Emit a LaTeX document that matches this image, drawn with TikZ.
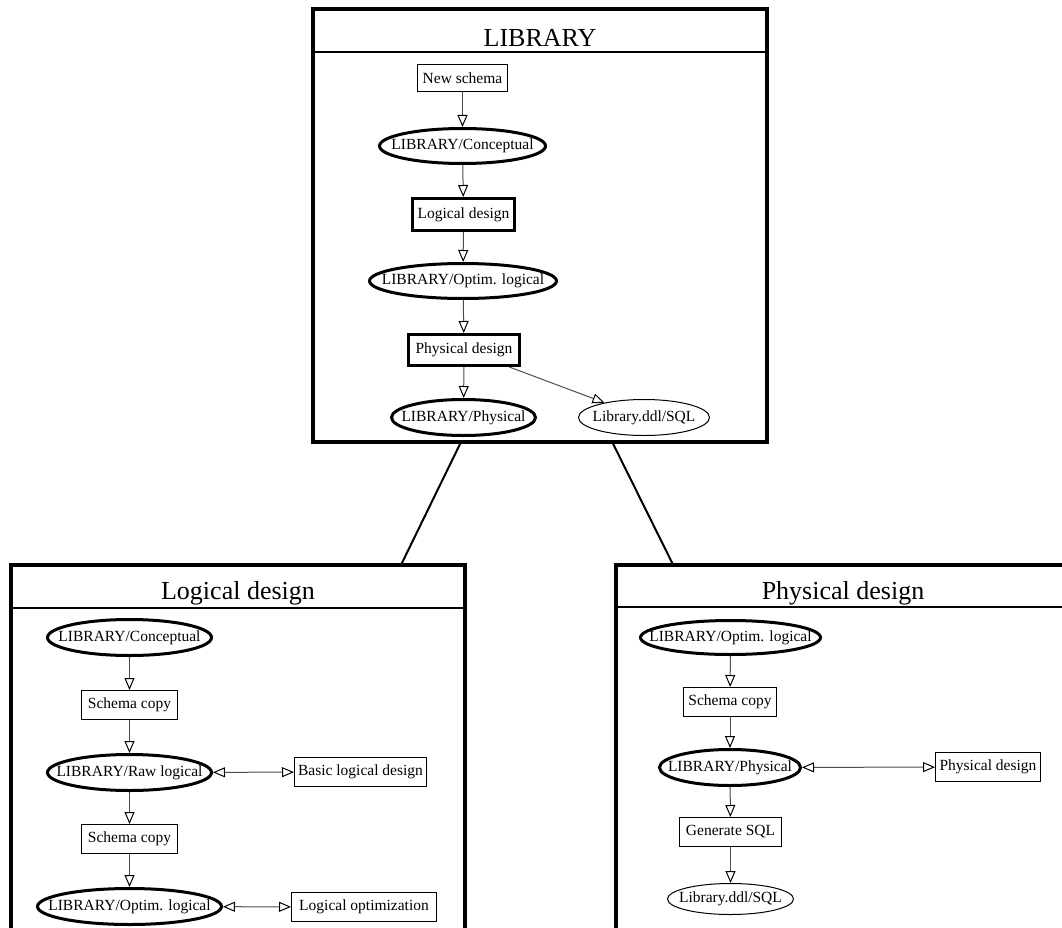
\documentclass[tikz,border=0pt]{standalone}
\usepackage{fontspec}
\setmainfont{Liberation Serif}
\usetikzlibrary{shapes.geometric,arrows.meta,calc}
\newcommand\zw[1]{\makebox[0pt]{#1}}
\begin{document}
\begin{tikzpicture}[x=1pt,y=-1pt,
  frame/.style={draw, line width=4pt, rectangle, inner sep=0pt, outer sep=0pt},
  sepline/.style={line width=2pt},
  link/.style={line width=2pt},
  title/.style={font=\fontsize{26}{30}\selectfont, anchor=base, inner sep=0pt},
  lbl/.style={font=\fontsize{15.5}{18}\selectfont},
  rbox/.style={lbl, draw, line width=1pt, rectangle, inner sep=0pt},
  rboxb/.style={rbox, line width=3pt},
  ell/.style={lbl, draw, line width=3pt, ellipse, inner sep=0pt},
  ellt/.style={ell, line width=1pt},
  tip/.style={Triangle[open, length=12pt, width=10pt, color=black, line width=1pt]},
  flow/.style={draw=black!70, line width=1pt, -{Triangle[open, length=12pt, width=10pt, color=black, line width=1pt]}},
  both/.style={draw=black!70, line width=1pt, {Triangle[open, length=12pt, width=10pt, color=black, line width=1pt]}-{Triangle[open, length=12pt, width=10pt, color=black, line width=1pt]}}
]
\useasboundingbox (0,0) rectangle (1062,928);
\clip (0,0) rectangle (1062,928);

% ---------- frames ----------
\node[frame, minimum width=454pt, minimum height=433pt] (topf) at (540,225.5) {};
\node[frame, minimum width=454pt, minimum height=435pt] (lf) at (238,782.5) {};
\node[frame, minimum width=454pt, minimum height=435pt] (rf) at (843,782.5) {};

\draw[sepline] ($(topf.north west)+(0,43)$) -- ($(topf.north east)+(0,43)$);
\draw[sepline] ($(lf.north west)+(0,43)$) -- ($(lf.north east)+(0,43)$);
\draw[sepline] ($(rf.north west)+(0,42)$) -- ($(rf.north east)+(0,42)$);

\node[title] (tt) at (540,46.5) {LIBRARY};
\node[title] (lt) at (238,599) {Logical design};
\node[title] (rt) at (843,599) {Physical design};

\coordinate (c1a) at ($(topf.south west)!0.326!(topf.south east)$);
\coordinate (c1b) at ($(lf.north west)!0.859!(lf.north east)$);
\coordinate (c2a) at ($(topf.south west)!0.659!(topf.south east)$);
\coordinate (c2b) at ($(rf.north west)!0.126!(rf.north east)$);
\draw[link] (c1a) -- (c1b);
\draw[link] (c2a) -- (c2b);

% ---------- top frame ----------
\node[rbox, minimum width=90pt, minimum height=27pt] (ns) at (462.5,78) {New schema};
\node[ell, minimum width=166pt, minimum height=35pt] (tc) at (462.5,146) {\zw{LIBRARY/Conceptual}};
\node[rboxb, minimum width=102pt, minimum height=32pt] (tld) at (463.5,214.5) {Logical design};
\node[ell, minimum width=187pt, minimum height=35pt] (to) at (463,281) {\zw{LIBRARY/Optim. logical}};
\node[rboxb, minimum width=111pt, minimum height=31pt] (tpd) at (464,350) {Physical design};
\node[ell, minimum width=144pt, minimum height=36pt] (tp) at (463.5,417.5) {\zw{LIBRARY/Physical}};
\node[ellt, minimum width=131pt, minimum height=36pt] (tddl) at (644,417.5) {\zw{Library.ddl/SQL}};

\draw[flow] (ns) -- (tc);
\draw[flow] (tc) -- (tld);
\draw[flow] (tld) -- (to);
\draw[flow] (to) -- (tpd);
\draw[flow] (tpd) -- (tp);
\draw[flow] (tpd) -- (tddl);

% ---------- left frame ----------
\node[ell, minimum width=164pt, minimum height=36pt] (lc) at (129.5,637.5) {\zw{LIBRARY/Conceptual}};
\node[rbox, minimum width=96pt, minimum height=29pt] (ls1) at (129.5,705) {Schema copy};
\node[ell, minimum width=164pt, minimum height=36pt] (lraw) at (129.5,772.5) {\zw{LIBRARY/Raw logical}};
\node[rbox, minimum width=132pt, minimum height=29pt] (lbld) at (360.5,772) {Basic logical design};
\node[rbox, minimum width=96pt, minimum height=29pt] (ls2) at (129.5,839) {Schema copy};
\node[ell, minimum width=184pt, minimum height=36pt] (lopt) at (129.5,906.5) {\zw{LIBRARY/Optim. logical}};
\node[rbox, minimum width=145pt, minimum height=29pt] (lopz) at (364,907) {Logical optimization};

\draw[flow] (lc) -- (ls1);
\draw[flow] (ls1) -- (lraw);
\draw[flow] (lraw) -- (ls2);
\draw[flow] (ls2) -- (lopt);
\draw[both] (lraw) -- (lbld);
\draw[both] (lopt) -- (lopz);

% ---------- right frame ----------
\node[ell, minimum width=180pt, minimum height=34pt] (ro) at (730.5,637.5) {\zw{LIBRARY/Optim. logical}};
\node[rbox, minimum width=93pt, minimum height=29pt] (rs) at (730,702) {Schema copy};
\node[ell, minimum width=141pt, minimum height=36pt] (rp) at (730,767.5) {\zw{LIBRARY/Physical}};
\node[rbox, minimum width=105pt, minimum height=29pt] (rpd) at (988,767) {Physical design};
\node[rbox, minimum width=102pt, minimum height=29pt] (rg) at (730.5,832) {Generate SQL};
\node[ellt, minimum width=126pt, minimum height=31pt] (rddl) at (730.5,899) {\zw{Library.ddl/SQL}};

\draw[flow] (ro) -- (rs);
\draw[flow] (rs) -- (rp);
\draw[flow] (rp) -- (rg);
\draw[flow] (rg) -- (rddl);
\draw[both] (rp) -- (rpd);
\end{tikzpicture}
\end{document}
